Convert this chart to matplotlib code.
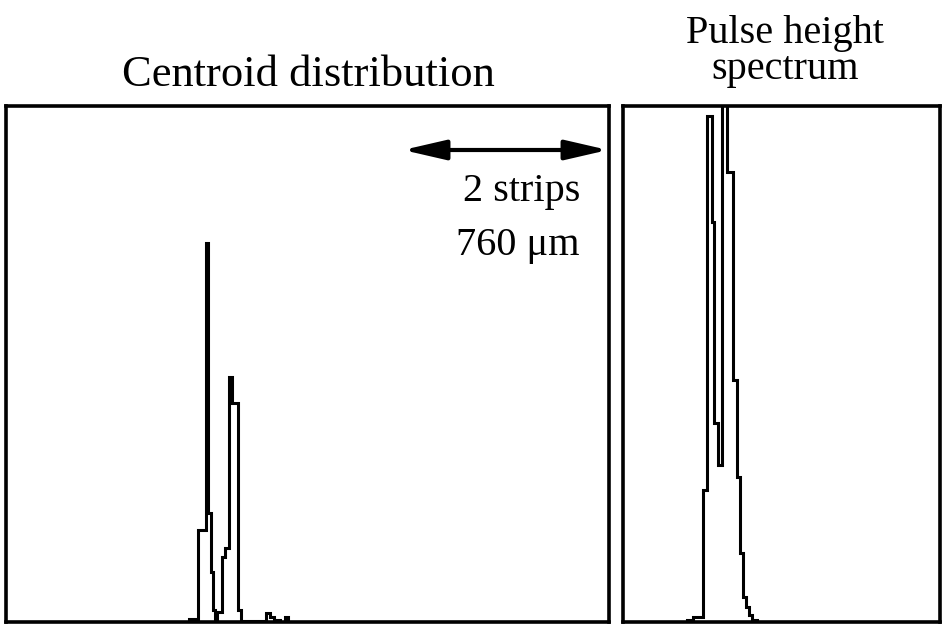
import matplotlib
matplotlib.use('Agg')
import matplotlib.pyplot as plt

plt.rcParams['font.family'] = ['Liberation Serif', 'DejaVu Serif']

# centroid distribution (channel edges, counts)
cen_edges = [183, 192, 200, 202, 205, 207, 209, 211, 216, 219, 223, 226, 232, 235, 260, 264, 268, 274, 279, 282]
cen_counts = [3, 92, 379, 109, 50, 12, 2, 10, 65, 74, 245, 219, 12, 1, 9, 5, 2, 0, 5]

# pulse height spectrum (channel edges, counts) - peak bin goes off the top
ph_edges = [64, 70, 80, 84, 89, 91, 95, 99, 104, 110, 114, 117, 120, 123, 126, 129, 134]
ph_counts = [2, 5, 132, 506, 400, 199, 157, 530, 450, 242, 145, 69, 25, 15, 7, 2]

W, H = 942, 627
fig = plt.figure(figsize=(W / 100, H / 100), dpi=100)

ax1 = fig.add_axes([6 / W, 5 / H, 603 / W, 516 / H])
ax2 = fig.add_axes([623 / W, 5 / H, 317 / W, 516 / H])

ax1.stairs(cen_counts, cen_edges, color='black', lw=2.2, baseline=0)
ax2.stairs(ph_counts, ph_edges, color='black', lw=2.2, baseline=0)

ax1.set_xlim(0, 603)
ax2.set_xlim(0, 317)
for ax in (ax1, ax2):
    ax.set_ylim(0, 516)
    ax.set_xticks([])
    ax.set_yticks([])
    for s in ax.spines.values():
        s.set_linewidth(2.6)
        s.set_color('black')

# 2 strip scale arrow
ax1.annotate('', xy=(397, 472), xytext=(602, 472),
             arrowprops=dict(arrowstyle='<|-|>,head_length=1.3,head_width=0.3',
                             color='black', lw=3, mutation_scale=20,
                             shrinkA=0, shrinkB=0))
ax1.text(574, 430, '2 strips', ha='right', va='center', fontsize=29)
ax1.text(574, 376, '760 \u03bcm', ha='right', va='center', fontsize=29)

fig.text(308 / W, 1 - 75 / H, 'Centroid distribution', ha='center', va='center', fontsize=32)
fig.text(785 / W, 1 - 33 / H, 'Pulse height', ha='center', va='center', fontsize=29)
fig.text(785 / W, 1 - 70 / H, 'spectrum', ha='center', va='center', fontsize=29)

fig.savefig('out.png', dpi=100)
